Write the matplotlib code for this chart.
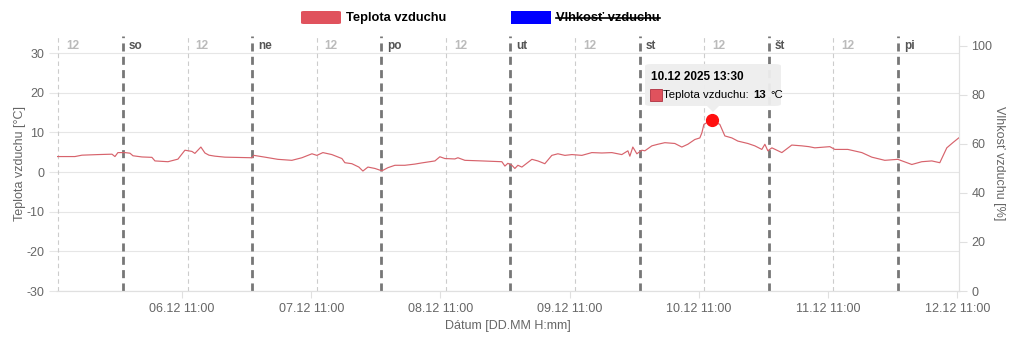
import matplotlib

matplotlib.use("Agg")
import matplotlib.pyplot as plt
import pandas as pd
from matplotlib.patches import FancyBboxPatch, Rectangle, Polygon
from matplotlib.lines import Line2D

plt.rcParams["font.family"] = ["Liberation Sans", "DejaVu Sans"]
plt.rcParams["axes.unicode_minus"] = False

# temperature samples
times = [
    "05 11:50", "05 15:05", "05 16:23", "05 19:22", "05 21:58", "05 22:31", "05 23:04",
    "06 00:22", "06 01:18", "06 01:52", "06 03:32", "06 05:23", "06 05:57", "06 08:22",
    "06 10:13", "06 11:31", "06 12:49", "06 13:22", "06 14:29", "06 15:14", "06 15:59",
    "06 17:05", "06 18:57", "06 23:58", "07 00:20", "07 02:23", "07 04:47", "07 07:23",
    "07 09:15", "07 11:07", "07 12:02", "07 13:09", "07 14:49", "07 16:41", "07 17:14",
    "07 18:32", "07 19:50", "07 20:35", "07 21:31", "07 22:49", "08 00:07", "08 01:14",
    "08 02:32", "08 04:23", "08 06:14", "08 07:32", "08 09:58", "08 10:53", "08 11:49",
    "08 13:40", "08 14:14", "08 15:32", "08 18:41", "08 22:24", "08 22:58", "08 23:31",
    "09 00:16", "09 00:49", "09 01:23", "09 02:07", "09 03:59", "09 05:05", "09 06:23",
    "09 07:41", "09 08:49", "09 10:07", "09 11:25", "09 13:16", "09 15:07", "09 16:59",
    "09 18:50", "09 20:41", "09 21:49", "09 22:11", "09 22:44", "09 23:29", "10 00:25",
    "10 00:58", "10 02:16", "10 03:23", "10 04:41", "10 06:32", "10 07:50", "10 08:57",
    "10 10:15", "10 11:11", "10 11:34", "10 11:56", "10 12:40", "10 13:30", "10 14:54",
    "10 15:50", "10 17:08", "10 18:15", "10 20:06", "10 21:24", "10 22:42", "10 23:16",
    "10 23:49", "11 00:34", "11 02:25", "11 04:16", "11 06:08", "11 07:26", "11 08:33",
    "11 11:20", "11 12:16", "11 14:41", "11 17:17", "11 19:08", "11 21:33", "11 23:58",
    "12 02:34", "12 04:25", "12 06:17", "12 07:46", "12 09:04", "12 10:11", "12 11:17",
]
temps = [
    3.9, 3.9, 4.25, 4.4, 4.5, 3.9, 4.9,
    4.9, 4.75, 4.1, 3.8, 3.7, 2.8, 2.6,
    3.25, 5.5, 5.2, 4.7, 6.3, 4.8, 4.25,
    4.0, 3.75, 3.6, 4.2, 3.75, 3.2, 2.95,
    3.6, 4.6, 4.2, 4.9, 4.4, 3.4, 2.35,
    2.1, 1.25, 0.25, 1.25, 0.9, 0.3, 1.1,
    1.7, 1.7, 2.0, 2.3, 2.8, 3.85, 3.4,
    3.3, 3.6, 2.95, 2.8, 2.6, 1.5, 2.2,
    1.7, 0.9, 1.7, 1.25, 3.2, 2.8, 2.1,
    4.2, 4.6, 4.2, 4.4, 4.2, 4.9, 4.8,
    4.9, 4.4, 5.35, 4.0, 6.3, 4.6, 5.5,
    5.35, 6.6, 7.0, 7.4, 7.2, 6.3, 7.0,
    8.2, 8.6, 9.9, 12.0, 12.6, 13.0, 12.0,
    9.1, 8.6, 7.8, 7.2, 6.6, 5.7, 7.0,
    5.35, 6.1, 4.9, 6.8, 6.6, 6.4, 6.1,
    6.4, 5.7, 5.7, 4.9, 3.75, 2.95, 3.2,
    1.9, 2.6, 2.8, 2.35, 6.1, 7.4, 8.6,
]
day_names = ["so", "ne", "po", "ut", "st", "št", "pi"]
day_starts = ["06", "07", "08", "09", "10", "11", "12"]
noon_days = ["05", "06", "07", "08", "09", "10", "11"]
tick_days = ["06", "07", "08", "09", "10", "11", "12"]
hover_time = "10 13:30"
hover_temp = 13


def ts(s):
    return pd.to_datetime("2025-12-" + s, format="%Y-%m-%d %H:%M")


W, H = 1024, 341
fig = plt.figure(figsize=(W / 100, H / 100), dpi=100)


def fx(px):
    return px / W


def fy(py):
    return 1 - py / H


ax = fig.add_axes([fx(57), fy(291), fx(959) - fx(57), fy(36) - fy(291)])
ax2 = ax.twinx()

x = [ts(t) for t in times]
ax.plot(x, temps, color="#d7636c", lw=0.85, zorder=3)
ax.plot([ts(hover_time)], [hover_temp], "o", color="#ff1010", ms=8.5, zorder=5)

ax.set_xlim(ts("05 11:45"), ts("12 11:20"))
ax.set_ylim(-30, 34.3)
ax2.set_ylim(0, 104)

grey = "#666666"
ax.set_yticks(range(-30, 31, 10))
ax.grid(axis="y", color="#e6e6e6", lw=0.8)
ax.set_axisbelow(True)
ax.tick_params(axis="y", length=6, color="#e6e6e6", labelsize=9, labelcolor=grey, pad=3)
ax.tick_params(axis="x", length=5, color="#e0e0e0", labelsize=9, labelcolor=grey, pad=4)
ax2.set_yticks(range(0, 101, 20))
ax2.tick_params(axis="y", length=6, color="#e0e0e0", labelsize=9, labelcolor=grey, pad=3)

ax.set_xticks([ts(d + " 11:00") for d in tick_days])
ax.set_xticklabels([d + ".12 11:00" for d in tick_days])

for a in (ax, ax2):
    for side in ("top", "left"):
        a.spines[side].set_visible(False)
    a.spines["bottom"].set_color("#e0e0e0")
    a.spines["right"].set_color("#e0e0e0")

ax.set_ylabel("Teplota vzduchu [°C]", fontsize=9, color=grey, labelpad=0)
ax2.set_ylabel("Vlhkosť vzduchu [%]", fontsize=9, color=grey, rotation=270, labelpad=9)
ax.set_xlabel("Dátum [DD.MM H:mm]", fontsize=9, color=grey, labelpad=3)

# day boundaries and noon markers
for d, name in zip(day_starts, day_names):
    t = ts(d + " 00:00")
    ax.axvline(t, color="#777777", lw=2.0, dashes=(2.9, 1.9), zorder=2)
    ax.annotate(name, (t, 1), xycoords=("data", "axes fraction"), xytext=(6, -10),
                textcoords="offset pixels", fontsize=8.5, fontweight="bold", color="#555555",
                va="center", ha="left")
for d in noon_days:
    t = ts(d + " 12:00")
    ax.axvline(t, color="#cccccc", lw=0.8, dashes=(4, 3), zorder=1)
    ax.annotate("12", (t, 1), xycoords=("data", "axes fraction"), xytext=(8, -10),
                textcoords="offset pixels", fontsize=8.5, fontweight="bold", color="#bbbbbb",
                va="center", ha="left")

# legend
fig.add_artist(FancyBboxPatch((fx(301), fy(24)), fx(40), 13 / H,
                              boxstyle="round,pad=0,rounding_size=0.003",
                              fc="#e0525d", ec="none", transform=fig.transFigure))
fig.text(fx(346), fy(18), "Teplota vzduchu", fontsize=9.3, fontweight="bold", va="center")
fig.add_artist(Rectangle((fx(511), fy(24)), fx(40), 13 / H, fc="#0000ff", ec="none",
                         transform=fig.transFigure))
hum = fig.text(fx(556), fy(18), "Vlhkosť vzduchu", fontsize=9.3, fontweight="bold", va="center")

# tooltip
fig.add_artist(FancyBboxPatch((fx(645), fy(106)), fx(136), 42 / H,
                              boxstyle="round,pad=0,rounding_size=0.006",
                              fc="#eeeeee", ec="none", alpha=0.95,
                              transform=fig.transFigure, zorder=6))
fig.add_artist(Polygon([(fx(707), fy(106)), (fx(719), fy(106)), (fx(713), fy(112))],
                       closed=True, fc="#eeeeee", ec="none", transform=fig.transFigure,
                       zorder=6))
fig.text(fx(651), fy(77), "10.12 2025 13:30", fontsize=8.5, fontweight="bold",
         va="center", zorder=7)
fig.add_artist(Rectangle((fx(650), fy(101)), fx(12), 12 / H, fc="#e0525d", ec="#b03040",
                         lw=0.6, transform=fig.transFigure, zorder=7))

fig.canvas.draw()
r = fig.canvas.get_renderer()
t1 = fig.text(fx(663), fy(95), "Teplota vzduchu:", fontsize=8.2, va="center", zorder=7)
e1 = t1.get_window_extent(r)
t2 = fig.text((e1.x1 + 4) / W, fy(95), "13", fontsize=8.2, fontweight="bold", va="center",
              zorder=7)
e2 = t2.get_window_extent(r)
fig.text((e2.x1 + 5) / W, fy(95), "°C", fontsize=8.2, va="center", zorder=7)

# strike-through on hidden dataset
eh = hum.get_window_extent(r)
ymid = (eh.y0 + eh.y1) / 2 / H
fig.add_artist(Line2D([eh.x0 / W, eh.x1 / W], [ymid, ymid], color="black", lw=1.2,
                      transform=fig.transFigure))

fig.savefig("out.png", dpi=100)
